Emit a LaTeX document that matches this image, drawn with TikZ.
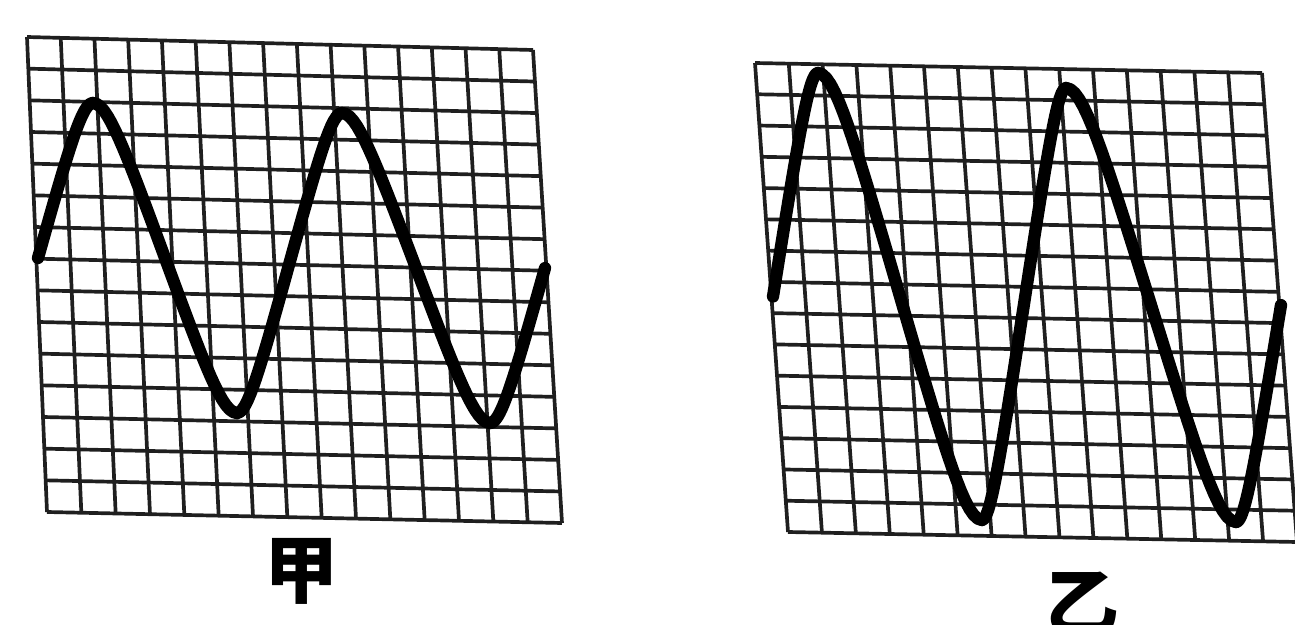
\documentclass[tikz,border=0pt]{standalone}
\usepackage{fontspec}
\newfontfamily\cjk{Noto Sans CJK SC}
\usetikzlibrary{calc}
% half a wave from one extremum (#1,#2) to the next (#3,#4), for t = #5 .. #6
\newcommand{\halfwave}[6]{plot[domain=#5:#6, samples=40]
  ({#1+(#3-#1)*\x}, {(#2+#4)/2+(#2-#4)/2*asin(0.9*cos(180*\x))/asin(0.9)})}

\begin{document}
\begin{tikzpicture}[
  x=0.02cm, y=-0.02cm,
  gridline/.style={draw=black!88, line width=2.1pt},
  trace/.style={draw=black, line width=7pt, line cap=round, line join=round},
  lbl/.style={font=\cjk\bfseries\fontsize{42}{42}\selectfont, inner sep=0pt}
]
  \useasboundingbox (0,0) rectangle (1295,625);
  \clip (0,0) rectangle (1295,625);
  % screen corners
  \coordinate (a-TL) at (27,37);
  \coordinate (a-TR) at (533,50);
  \coordinate (a-BL) at (47,512);
  \coordinate (a-BR) at (562,523);
  \coordinate (b-TL) at (755,63);
  \coordinate (b-TR) at (1262,73);
  \coordinate (b-BL) at (788,532);
  \coordinate (b-BR) at (1297,542);
  % 15 x 15 grid on each screen
  \foreach \s in {a,b}{
    \foreach \i in {0,...,15}{
      \draw[gridline] ($(\s-TL)!\i/15!(\s-TR)$) -- ($(\s-BL)!\i/15!(\s-BR)$);
      \draw[gridline] ($(\s-TL)!\i/15!(\s-BL)$) -- ($(\s-TR)!\i/15!(\s-BR)$);
    }
  }
  % waveforms, one half wave at a time
  \foreach \xa/\ya/\xb/\yb/\ta/\tb in {
      -17/413/93/103/0.5/1, 93/103/237/413/0/1, 237/413/342/113/0/1,
      342/113/490/423/0/1, 490/423/600/113/0/0.5,
      728/520/818/73/0.5/1, 818/73/982/520/0/1, 982/520/1066/88/0/1,
      1066/88/1236/522/0/1, 1236/522/1326/88/0/0.5}
    \draw[trace] \halfwave{\xa}{\ya}{\xb}{\yb}{\ta}{\tb};
  % labels
  \node[lbl] (jia) at (301,571) {甲};
  \node[lbl] (yi)  at (1082,603) {乙};
\end{tikzpicture}
\end{document}
